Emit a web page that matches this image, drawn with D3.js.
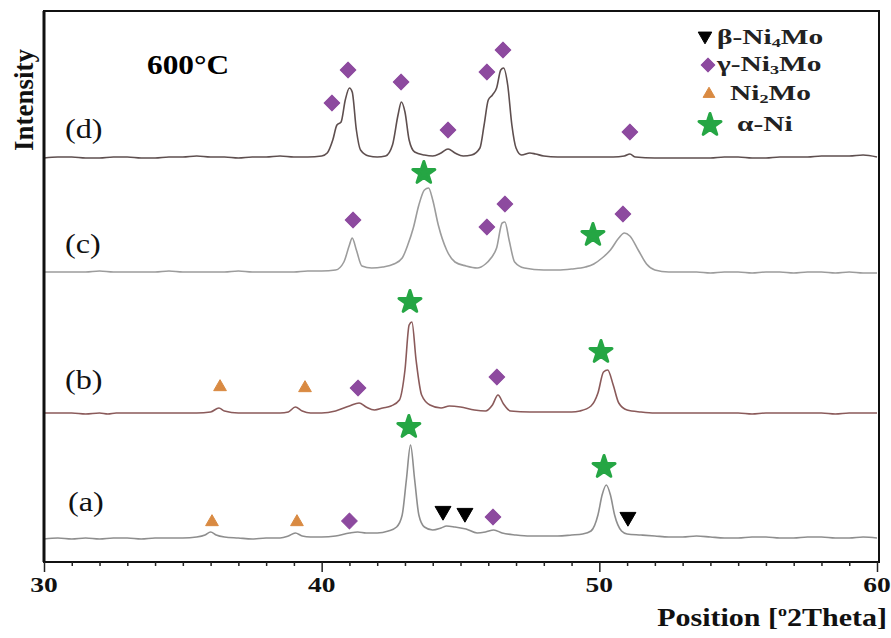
<!DOCTYPE html>
<html><head><meta charset="utf-8">
<script src="https://cdn.jsdelivr.net/npm/d3@7"></script>
<style>body{margin:0;background:#fff}svg{display:block}</style>
</head><body><svg id="chart" width="891" height="638"></svg>
<script>
// ---- data (2θ in degrees, intensity in arbitrary counts relative to each pattern's baseline) ----
const patternLabels = ["(a)", "(b)", "(c)", "(d)"];
const patternOffsets = [240, 1490, 2900, 4050];
const patternColors = ["#8e8e8e", "#8a5a5a", "#9c9c9c", "#5e4f4f"];

const patternA = [[30,-10],[30.5,0],[31,-10],[31.5,0],[32,-10],[32.5,0],[33,0],[33.5,-10],[34,0],[34.5,0],[35,0],[35.5,10],[35.8,30],[36,60],[36.2,30],[36.5,10],[37,0],[37.5,-10],[38,0],[38.5,0],[38.8,20],[39.05,50],[39.3,20],[39.6,10],[40,10],[40.5,20],[41,50],[41.3,60],[41.6,50],[42,50],[42.4,70],[42.7,110],[42.9,230],[43.05,580],[43.2,930],[43.35,580],[43.5,230],[43.7,110],[44,80],[44.3,100],[44.5,120],[44.8,110],[45.2,90],[45.6,50],[45.9,60],[46.2,80],[46.5,50],[47,30],[47.5,20],[48,20],[48.5,20],[49,30],[49.4,40],[49.7,70],[49.95,230],[50.1,430],[50.25,530],[50.4,430],[50.55,230],[50.8,70],[51,40],[51.5,30],[52,20],[52.5,10],[53,10],[53.5,20],[54,10],[54.5,0],[55,0],[55.5,10],[56,10],[56.5,0],[57,0],[57.5,10],[58,10],[58.5,0],[59,0],[59.5,10],[60,0]];

const patternB = [[30,0],[30.5,0],[31,0],[31.5,-10],[32,0],[32.3,-10],[32.6,0],[33,0],[33.5,0],[34,0],[34.5,0],[35,0],[35.5,0],[36,10],[36.3,50],[36.5,20],[37,0],[37.5,0],[38,0],[38.5,0],[38.8,10],[39.05,60],[39.3,20],[39.6,0],[40,0],[40.5,20],[41,70],[41.35,100],[41.6,60],[41.9,30],[42.2,50],[42.5,70],[42.8,130],[43,430],[43.15,880],[43.25,910],[43.4,530],[43.6,180],[43.9,80],[44.3,50],[44.6,70],[45,60],[45.5,30],[45.9,20],[46.15,80],[46.35,180],[46.55,90],[46.8,20],[47.5,10],[48,10],[48.5,10],[49,10],[49.3,20],[49.7,70],[49.95,200],[50.15,410],[50.3,430],[50.5,280],[50.7,100],[51,30],[51.5,10],[52,0],[52.5,0],[53,0],[54,0],[55,0],[55.5,-10],[56,0],[57,0],[58,0],[58.5,-10],[59,0],[60,0]];

const patternC = [[30,0],[30.5,0],[31,0],[31.5,0],[32,10],[32.5,0],[33,0],[33.5,0],[34,0],[34.5,10],[35,0],[35.5,0],[36,0],[36.5,0],[37,10],[37.5,0],[38,0],[38.5,0],[39,0],[39.5,10],[40,10],[40.5,20],[40.8,100],[41,270],[41.1,340],[41.25,220],[41.45,60],[41.8,40],[42.2,50],[42.6,80],[42.9,140],[43.1,270],[43.3,440],[43.5,670],[43.7,820],[43.85,840],[44,720],[44.2,470],[44.5,220],[44.8,100],[45.2,60],[45.6,40],[45.9,80],[46.1,140],[46.3,240],[46.5,490],[46.6,500],[46.75,320],[46.95,100],[47.3,40],[48,20],[48.5,20],[49,30],[49.5,50],[49.8,80],[50.1,140],[50.4,220],[50.7,340],[50.9,390],[51.1,360],[51.4,220],[51.7,80],[52,20],[52.5,0],[53,0],[53.5,0],[54,-10],[54.5,0],[55,0],[55.5,-10],[56,0],[56.5,0],[57,-10],[57.5,0],[58,0],[58.5,-10],[59,0],[59.5,-10],[60,-10]];

const patternD = [[30,-10],[30.5,0],[31,0],[31.5,-10],[32,-10],[32.5,0],[33,0],[33.5,-10],[34,-10],[34.5,0],[35,0],[35.5,10],[36,0],[36.5,0],[37,-10],[37.5,0],[38,0],[38.5,10],[39,0],[39.5,0],[40,10],[40.2,40],[40.4,170],[40.55,320],[40.7,350],[40.85,570],[41,690],[41.1,650],[41.25,270],[41.4,70],[41.7,10],[42,0],[42.3,10],[42.55,120],[42.75,420],[42.87,550],[43,450],[43.15,170],[43.35,50],[43.7,20],[44,10],[44.3,40],[44.55,80],[44.8,40],[45.1,10],[45.4,20],[45.7,90],[45.85,320],[46,570],[46.15,620],[46.3,690],[46.45,870],[46.55,890],[46.7,720],[46.85,320],[47,90],[47.2,20],[47.5,40],[47.7,30],[48,10],[48.5,0],[49,0],[49.5,0],[50,0],[50.5,0],[50.9,10],[51.1,30],[51.3,0],[52,-10],[52.5,-10],[53,-10],[53.5,-10],[54,-10],[54.5,0],[55,0],[55.5,-10],[56,-10],[56.5,0],[57,0],[57.5,0],[58,10],[58.5,10],[59,10],[59.5,20],[60,0]];

const patterns = [patternA, patternB, patternC, patternD];

// phase markers: [2θ, absolute intensity]
const betaNi4Mo = [[44.37,510],[45.16,490],[51.03,450]];
const gammaNi3Mo = [[41.0,410],[46.17,450],[41.31,1740],[46.31,1850],[41.13,3420],[45.95,3350],[46.6,3580],[50.85,3480],[40.37,4590],[40.95,4920],[42.86,4800],[44.55,4320],[45.95,4900],[46.53,5120],[51.1,4300]];
const ni2Mo = [[36.05,400],[39.11,400],[36.34,1750],[39.4,1740]];
const alphaNi = [[43.14,1350],[50.17,950],[43.18,2600],[50.06,2100],[43.68,3890],[49.77,3270]];

const majorTicks = [30, 40, 50, 60];
const minorTicks = d3.range(31, 60, 1).filter(d => d % 10 !== 0);
const legendNames = [["β-Ni","4","Mo"],["γ-Ni","3","Mo"],["Ni","2","Mo"],["α-Ni","",""]];
const titleText = "600°C";

// ---- drawing ----
const svg = d3.select("#chart");
const L = 44, R = 879, T = 11, B = 562;
const x = d3.scaleLinear().domain([30, 60]).range([44, 877]);
const y = d3.scaleLinear().domain([0, 5510]).range([B, T]);
const serif = "'Liberation Serif','Times New Roman',serif";

// traces
const line = d3.line().x(d => x(d[0])).y(d => y(d[1])).curve(d3.curveMonotoneX);
patterns.forEach((p, i) => {
  svg.append("path")
    .datum(p.map(d => [d[0], d[1] + patternOffsets[i]]))
    .attr("d", line).attr("fill", "none")
    .attr("stroke", patternColors[i]).attr("stroke-width", 1.6)
    .attr("stroke-linejoin", "round");
});

// frame
svg.append("rect").attr("x", L).attr("y", T).attr("width", R - L).attr("height", B - T)
  .attr("fill", "none").attr("stroke", "#111").attr("stroke-width", 2);
svg.append("line").attr("x1", L).attr("x2", L).attr("y1", T).attr("y2", B)
  .attr("stroke", "#111").attr("stroke-width", 3);

// axes
const gMaj = svg.append("g").attr("transform", `translate(0,${B})`)
  .call(d3.axisBottom(x).tickValues(majorTicks).tickSize(10).tickFormat(""));
const gMin = svg.append("g").attr("transform", `translate(0,${B})`)
  .call(d3.axisBottom(x).tickValues(minorTicks).tickSize(4).tickFormat(""));
[gMaj, gMin].forEach(g => {
  g.select(".domain").remove();
  g.selectAll("line").attr("stroke", "#222").attr("stroke-width", 1.5);
});
svg.append("g").selectAll("text").data(majorTicks).join("text")
  .attr("transform", d => `translate(${x(d)},592) scale(1.25,1)`)
  .attr("text-anchor", "middle").attr("font-family", serif).attr("font-weight", "bold")
  .attr("font-size", 22).attr("fill", "#111").text(d => d);

// axis titles
const xt = svg.append("text").attr("transform", "translate(887,626) scale(1.2,1)")
  .attr("text-anchor", "end").attr("font-family", serif).attr("font-weight", "bold")
  .attr("font-size", 25).attr("fill", "#111");
xt.append("tspan").text("Position [");
xt.append("tspan").attr("font-size", 15).attr("dy", -10).text("o");
xt.append("tspan").attr("dy", 10).text("2Theta]");

svg.append("text").attr("transform", "translate(33,100) rotate(-90)")
  .attr("text-anchor", "middle").attr("font-family", serif).attr("font-weight", "bold")
  .attr("font-size", 27).attr("fill", "#111").text("Intensity");

svg.append("text").attr("transform", "translate(147,74) scale(1.12,1)")
  .attr("font-family", serif).attr("font-weight", "bold")
  .attr("font-size", 28).attr("fill", "#000").text(titleText);

// pattern labels
const labelY = [511, 389, 253, 138];
patternLabels.forEach((t, i) => {
  svg.append("text").attr("transform", `translate(${i === 0 ? 68 : 65},${labelY[i]}) scale(1.15,1)`)
    .attr("font-family", serif).attr("font-size", 28).attr("fill", "#111").text(t);
});

// markers
const triDown = d3.symbol().type(d3.symbolTriangle).size(110);
const diamond = d3.symbol().type(d3.symbolSquare).size(125);
const triUp = d3.symbol().type(d3.symbolTriangle).size(70);
const star = d3.symbol().type(d3.symbolStar).size(150);
const markerSpecs = [
  {data: betaNi4Mo, path: triDown(), rot: 180, fill: "#000", stroke: "#000", sw: 1},
  {data: gammaNi3Mo, path: diamond(), rot: 45, fill: "#8d4a9f", stroke: "#8d4a9f", sw: 1},
  {data: ni2Mo, path: triUp(), rot: 0, fill: "#d98a42", stroke: "#d98a42", sw: 1},
  {data: alphaNi, path: star(), rot: 0, fill: "#25a644", stroke: "#25a644", sw: 3}
];
markerSpecs.forEach(s => {
  svg.append("g").selectAll("path").data(s.data).join("path")
    .attr("d", s.path)
    .attr("transform", d => `translate(${x(d[0])},${y(d[1])}) rotate(${s.rot})`)
    .attr("fill", s.fill).attr("stroke", s.stroke).attr("stroke-width", s.sw)
    .attr("stroke-linejoin", "round");
});

// legend
const legendSym = [
  {path: d3.symbol().type(d3.symbolTriangle).size(80)(), rot: 180, fill: "#000", sw: 1, cx: 705, cy: 36},
  {path: d3.symbol().type(d3.symbolSquare).size(95)(), rot: 45, fill: "#8d4a9f", sw: 1, cx: 708, cy: 65},
  {path: d3.symbol().type(d3.symbolTriangle).size(60)(), rot: 0, fill: "#d98a42", sw: 1, cx: 709, cy: 94},
  {path: d3.symbol().type(d3.symbolStar).size(150)(), rot: 0, fill: "#25a644", sw: 3, cx: 710, cy: 125}
];
const legendTextX = [717, 717, 730, 737];
const legendTextY = [44, 71, 100, 131];
legendNames.forEach((n, i) => {
  const s = legendSym[i];
  svg.append("path").attr("d", s.path)
    .attr("transform", `translate(${s.cx},${s.cy}) rotate(${s.rot})`)
    .attr("fill", s.fill).attr("stroke", s.fill).attr("stroke-width", s.sw)
    .attr("stroke-linejoin", "round");
  const t = svg.append("text").attr("transform", `translate(${legendTextX[i]},${legendTextY[i]}) scale(1.4,1)`)
    .attr("font-family", serif).attr("font-weight", "bold").attr("font-size", 21).attr("fill", "#222");
  t.append("tspan").text(n[0]);
  if (n[1]) {
    t.append("tspan").attr("font-size", 13).attr("dy", 3).text(n[1]);
    t.append("tspan").attr("dy", -3).text(n[2]);
  }
});
</script></body></html>
